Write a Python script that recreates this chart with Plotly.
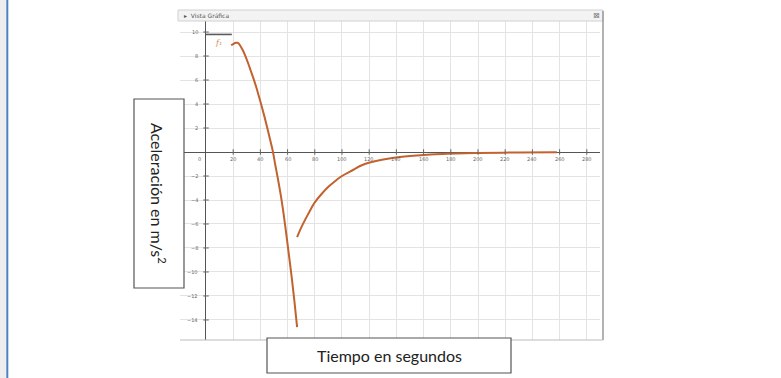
import plotly.graph_objects as go

# ---- data ----
g_x = [0, 19]
g_y = [9.8, 9.8]

fall_x = [18.5, 20, 22, 23.5, 25, 27, 29, 31, 33, 35, 37, 39, 41, 43, 45, 47, 49,
          51, 53, 55, 57, 59, 61, 63, 65, 67]
fall_y = [8.9, 9.0, 9.1, 9.1, 8.9, 8.5, 8.0, 7.4, 6.75, 6.1, 5.4, 4.6, 3.8, 2.95, 2.05,
          1.1, 0.15, -1.1, -2.3, -3.6, -5.1, -6.8, -8.6, -10.4, -12.4, -14.6]

chute_x = [67, 70, 75, 80, 85, 90, 96, 100, 108, 115, 125, 137, 150, 165, 177, 200, 230, 258]
chute_y = [-7.1, -6.3, -5.2, -4.2, -3.5, -2.9, -2.33, -2.0, -1.5, -1.08, -0.75, -0.5,
           -0.33, -0.2, -0.15, -0.08, -0.04, -0.02]

x_tick_vals = [20, 40, 60, 80, 100, 120, 140, 160, 180, 200, 220, 240, 260, 280]
y_tick_vals = [10, 8, 6, 4, 2, -2, -4, -6, -8, -10, -12, -14]

W, H = 781, 378
def px(x):
    return x / W
def py(y):
    return 1 - y / H

curve_color = "#C2622F"

fig = go.Figure()
fig.add_trace(go.Scatter(x=g_x, y=g_y, mode="lines",
                         line=dict(color="#5a5a5a", width=1.6), hoverinfo="skip"))
fig.add_trace(go.Scatter(x=fall_x, y=fall_y, mode="lines", line_shape="spline",
                         line=dict(color=curve_color, width=2), hoverinfo="skip"))
fig.add_trace(go.Scatter(x=chute_x, y=chute_y, mode="lines", line_shape="spline",
                         line=dict(color=curve_color, width=2), hoverinfo="skip"))
# small tick marks on the axes
fig.add_trace(go.Scatter(x=x_tick_vals, y=[0] * len(x_tick_vals), mode="markers",
                         marker=dict(symbol="line-ns-open", size=4, color="#666",
                                     line=dict(width=1, color="#666")),
                         hoverinfo="skip"))
fig.add_trace(go.Scatter(x=[0] * len(y_tick_vals), y=y_tick_vals, mode="markers",
                         marker=dict(symbol="line-ew-open", size=4, color="#666",
                                     line=dict(width=1, color="#666")),
                         hoverinfo="skip"))

annotations = []
tick_font = dict(family="DejaVu Sans", size=5, color="#666")
for v in x_tick_vals:
    annotations.append(dict(x=v, y=0, xref="x", yref="y", text=str(v), showarrow=False,
                            xanchor="center", yanchor="middle", yshift=-7, font=tick_font))
annotations.append(dict(x=0, y=0, xref="x", yref="y", text="0", showarrow=False,
                        xanchor="center", yanchor="middle", yshift=-7, xshift=-6, font=tick_font))
for v in y_tick_vals:
    annotations.append(dict(x=0, y=v, xref="x", yref="y", text=str(v).replace("-", "−"),
                            showarrow=False, xanchor="right", yanchor="middle", xshift=-6,
                            font=tick_font))
annotations.append(dict(x=9, y=9.1, xref="x", yref="y", text="<i>f₁</i>", showarrow=False,
                        xanchor="center", yanchor="middle",
                        font=dict(family="DejaVu Serif", size=8, color="#D48A55")))

# window title bar text
annotations.append(dict(x=px(182), y=py(15.5), xref="paper", yref="paper",
                        text="▸  Vista Gráfica", showarrow=False,
                        xanchor="left", yanchor="middle",
                        font=dict(family="DejaVu Sans", size=6, color="#555")))
annotations.append(dict(x=px(596), y=py(15.5), xref="paper", yref="paper", text="⊠",
                        showarrow=False, xanchor="center", yanchor="middle",
                        font=dict(family="DejaVu Sans", size=8, color="#777")))

# label boxes
annotations.append(dict(x=px(159), y=py(193), xref="paper", yref="paper",
                        text="Aceleración en m/s<sup>2</sup>", textangle=90, showarrow=False,
                        xanchor="center", yanchor="middle",
                        font=dict(family="Lato", size=16, color="#222")))
annotations.append(dict(x=px(389), y=py(355.5), xref="paper", yref="paper",
                        text="Tiempo en segundos", showarrow=False,
                        xanchor="center", yanchor="middle",
                        font=dict(family="Lato", size=16, color="#222")))

shapes = [
    # blue page line
    dict(type="rect", xref="paper", yref="paper", x0=0, x1=px(6), y0=0, y1=1,
         fillcolor="#eeeeee", line=dict(width=0), layer="below"),
    dict(type="line", xref="paper", yref="paper", x0=px(7.3), x1=px(7.3), y0=0, y1=1,
         line=dict(color="#4F81BD", width=2)),
    # window title bar
    dict(type="rect", xref="paper", yref="paper", x0=px(178), x1=px(603), y0=py(21), y1=py(10),
         fillcolor="#f3f3f3", line=dict(color="#d0d0d0", width=1)),
    # window right border
    dict(type="line", xref="paper", yref="paper", x0=px(603), x1=px(603), y0=py(340), y1=py(11),
         line=dict(color="#999", width=1.5)),
    # window bottom border
    dict(type="line", xref="paper", yref="paper", x0=px(180), x1=px(603), y0=py(340), y1=py(340),
         line=dict(color="#bbb", width=1)),
    # label boxes
    dict(type="rect", xref="paper", yref="paper", x0=px(134), x1=px(184), y0=py(288), y1=py(99),
         fillcolor="white", line=dict(color="#555", width=1.2)),
    dict(type="rect", xref="paper", yref="paper", x0=px(267), x1=px(511), y0=py(373), y1=py(338),
         fillcolor="white", line=dict(color="#555", width=1.2)),
]

fig.update_layout(
    width=W, height=H, margin=dict(l=0, r=0, t=0, b=0),
    paper_bgcolor="white", plot_bgcolor="white", showlegend=False,
    annotations=annotations, shapes=shapes,
    xaxis=dict(domain=[px(180), px(600)], range=[-19.1, 289.7], dtick=20, tick0=0,
               showgrid=True, gridcolor="#e3e3e3", gridwidth=1,
               zeroline=True, zerolinecolor="#555", zerolinewidth=1.2,
               showticklabels=False, ticks="", fixedrange=True),
    yaxis=dict(domain=[py(340), py(21)], range=[-15.67, 10.92], dtick=2, tick0=0,
               showgrid=True, gridcolor="#e3e3e3", gridwidth=1,
               zeroline=True, zerolinecolor="#555", zerolinewidth=1.2,
               showticklabels=False, ticks="", fixedrange=True),
)

fig.write_html("out.html", config={"displayModeBar": False},
               post_script="document.body.style.margin='0';document.body.style.overflow='hidden';")
